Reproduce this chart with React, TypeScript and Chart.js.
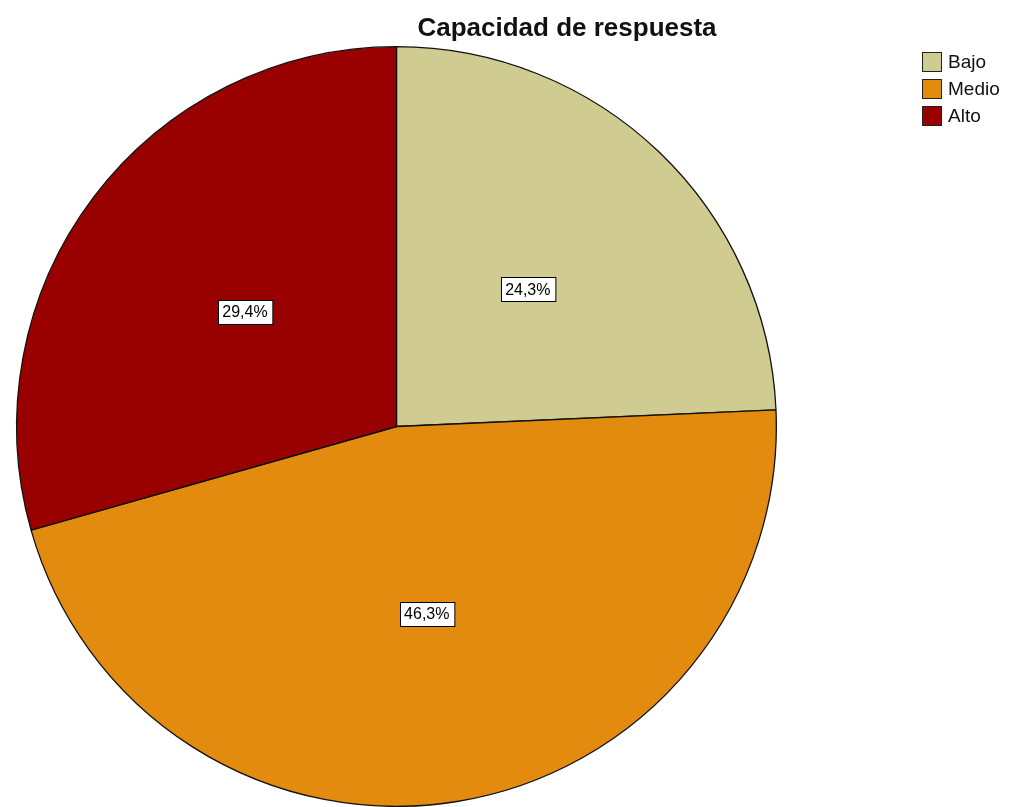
import React, { useEffect, useRef } from "react";
import { Chart, registerables } from "chart.js";

Chart.register(...registerables);

const chartTitle = "Capacidad de respuesta";
const categories = ["Bajo", "Medio", "Alto"];
const percentages = [24.3, 46.3, 29.4];
const sliceColors = ["#D0CB90", "#E38B0E", "#990000"];

const FONT = "'Liberation Sans', Arial, Helvetica, sans-serif";

const fmt = (v: number) => v.toFixed(1).replace(".", ",") + "%";

export default function App() {
  const ref = useRef<HTMLCanvasElement>(null);

  useEffect(() => {
    document.body.style.margin = "0";
    const canvas = ref.current;
    if (!canvas) return;

    const overlay = {
      id: "overlay",
      afterDatasetsDraw(chart: any) {
        const ctx = chart.ctx as CanvasRenderingContext2D;
        const meta = chart.getDatasetMeta(0);
        ctx.save();
        // slice labels
        ctx.font = `16px ${FONT}`;
        ctx.textAlign = "center";
        ctx.textBaseline = "middle";
        meta.data.forEach((arc: any, i: number) => {
          const p = arc.tooltipPosition();
          const txt = fmt(percentages[i]);
          const w = ctx.measureText(txt).width + 9;
          const h = 24;
          const x = Math.round(p.x - w / 2) + 0.5;
          const y = Math.round(p.y - h / 2) + 0.5;
          ctx.fillStyle = "#ffffff";
          ctx.fillRect(x, y, w, h);
          ctx.strokeStyle = "#000000";
          ctx.lineWidth = 1;
          ctx.strokeRect(x, y, w, h);
          ctx.fillStyle = "#000000";
          ctx.fillText(txt, p.x, p.y + 1);
        });

        // title
        ctx.font = `bold 26px ${FONT}`;
        ctx.fillStyle = "#111111";
        ctx.textAlign = "center";
        ctx.textBaseline = "middle";
        ctx.fillText(chartTitle, 567, 29);

        // legend
        ctx.font = `19px ${FONT}`;
        ctx.textAlign = "left";
        categories.forEach((c, i) => {
          const by = 52 + i * 27;
          ctx.fillStyle = sliceColors[i];
          ctx.fillRect(922.5, by + 0.5, 19, 19);
          ctx.strokeStyle = "#222222";
          ctx.lineWidth = 1;
          ctx.strokeRect(922.5, by + 0.5, 19, 19);
          ctx.fillStyle = "#111111";
          ctx.fillText(c, 948, by + 11);
        });
        ctx.restore();
      },
    };

    const chart = new Chart(canvas, {
      type: "pie",
      data: {
        labels: categories,
        datasets: [
          {
            data: percentages,
            backgroundColor: sliceColors,
            borderColor: "#111111",
            borderWidth: 1.3,
          },
        ],
      },
      options: {
        responsive: false,
        animation: false,
        devicePixelRatio: 1,
        rotation: 0,
        layout: { padding: { top: 46, bottom: 0, left: 15, right: 235 } },
        plugins: {
          legend: { display: false },
          title: { display: false },
          tooltip: { enabled: false },
        },
      },
      plugins: [overlay],
    });
    return () => chart.destroy();
  }, []);

  return (
    <div style={{ position: "absolute", left: 0, top: 0, width: 1013, height: 807, overflow: "hidden", background: "#fff" }}>
      <canvas ref={ref} width={1013} height={807} style={{ display: "block" }} />
    </div>
  );
}
